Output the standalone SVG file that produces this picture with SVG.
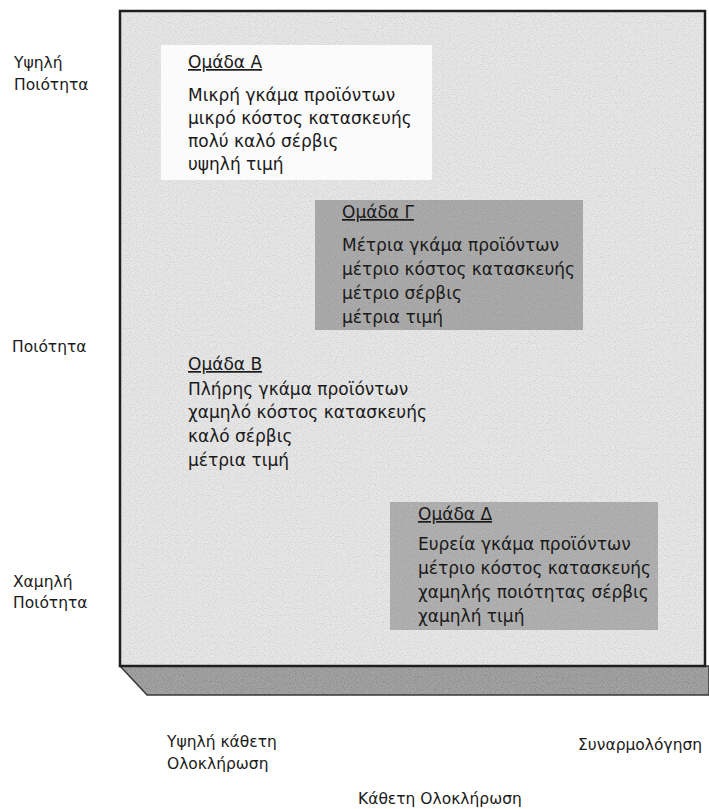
<svg xmlns="http://www.w3.org/2000/svg" width="709" height="809" viewBox="0 0 709 809">
<style>
text{font-family:"DejaVu Sans","Liberation Sans",sans-serif;fill:#1a1a1a}
.lab{font-size:15.5px}
.grp{font-size:17px}
.hdr{font-size:17px;text-decoration:underline}
.noise{filter:url(#grain)}
</style>
<defs>
<filter id="grain" x="0" y="0" width="1" height="1" color-interpolation-filters="sRGB">
<feTurbulence type="fractalNoise" baseFrequency="0.85" numOctaves="1" seed="7"/>
<feColorMatrix type="matrix" values="0 0 0 0 0  0 0 0 0 0  0 0 0 0 0  -0.6 0 0 0 0.32"/>
</filter>
<clipPath id="slabClip"><polygon points="120,666 709,666 709,695 147,695"/></clipPath>
</defs>
<rect width="709" height="809" fill="#ffffff"/>
<g id="frame">
<polygon points="120,666 709,666 709,695 147,695" fill="#a2a2a2" stroke="#3a3a3a" stroke-width="1.5"/>
<rect x="120" y="666" width="589" height="29" fill="#000" class="noise" opacity="0.9" clip-path="url(#slabClip)"/>
<rect x="120" y="11" width="585" height="655" fill="#e6e6e6" stroke="#1e1e1e" stroke-width="2.5"/>
<rect x="122" y="13" width="581" height="651" fill="#000" class="noise" opacity="0.5"/>
</g>
<g id="groupA">
<rect x="161" y="45" width="271" height="135" fill="#fbfbfb"/>
<text class="hdr" x="188" y="68">Ομάδα Α</text>
<text class="grp" x="188" y="101">Μικρή γκάμα προϊόντων</text>
<text class="grp" x="188" y="124">μικρό κόστος κατασκευής</text>
<text class="grp" x="188" y="147">πολύ καλό σέρβις</text>
<text class="grp" x="188" y="170">υψηλή τιμή</text>
</g>
<g id="groupG">
<rect x="315" y="200" width="268" height="130" fill="#aaaaaa"/>
<rect x="315" y="200" width="268" height="130" fill="#000" class="noise" opacity="0.45"/>
<text class="hdr" x="342" y="218">Ομάδα Γ</text>
<text class="grp" x="342" y="251">Μέτρια γκάμα προϊόντων</text>
<text class="grp" x="342" y="275">μέτριο κόστος κατασκευής</text>
<text class="grp" x="342" y="299">μέτριο σέρβις</text>
<text class="grp" x="342" y="323">μέτρια τιμή</text>
</g>
<g id="groupB">
<text class="hdr" x="188" y="370">Ομάδα Β</text>
<text class="grp" x="188" y="395">Πλήρης γκάμα προϊόντων</text>
<text class="grp" x="188" y="418">χαμηλό κόστος κατασκευής</text>
<text class="grp" x="188" y="442">καλό σέρβις</text>
<text class="grp" x="188" y="466">μέτρια τιμή</text>
</g>
<g id="groupD">
<rect x="390" y="502" width="268" height="128" fill="#b0b0b0"/>
<rect x="390" y="502" width="268" height="128" fill="#000" class="noise" opacity="0.45"/>
<text class="hdr" x="418" y="520">Ομάδα Δ</text>
<text class="grp" x="418" y="550">Ευρεία γκάμα προϊόντων</text>
<text class="grp" x="418" y="574">μέτριο κόστος κατασκευής</text>
<text class="grp" x="418" y="598">χαμηλής ποιότητας σέρβις</text>
<text class="grp" x="418" y="622">χαμηλή τιμή</text>
</g>
<g id="axisY">
<text class="lab" x="14" y="68">Υψηλή</text>
<text class="lab" x="14" y="90">Ποιότητα</text>
<text class="lab" x="12" y="352">Ποιότητα</text>
<text class="lab" x="13" y="587">Χαμηλή</text>
<text class="lab" x="13" y="608">Ποιότητα</text>
</g>
<g id="axisX">
<text class="lab" x="167" y="747">Υψηλή κάθετη</text>
<text class="lab" x="167" y="769">Ολοκλήρωση</text>
<text class="lab" x="578" y="750">Συναρμολόγηση</text>
<text class="lab" x="358" y="804">Κάθετη Ολοκλήρωση</text>
</g>
</svg>
